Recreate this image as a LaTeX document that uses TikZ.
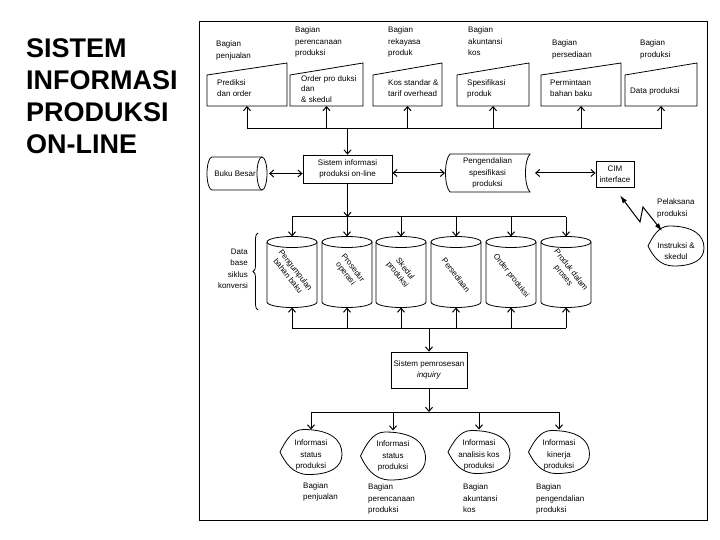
\documentclass[tikz,border=0pt]{standalone}
\usepackage{fontspec}
\setmainfont{Liberation Sans}
\usetikzlibrary{arrows.meta,decorations.pathreplacing}

\tikzset{
  shapeline/.style={line width=0.8pt},
  busline/.style={line width=1pt},
  arr/.style={busline, -{Straight Barb[length=4pt,width=7pt]}},
  dblarr/.style={busline, {Straight Barb[length=4pt,width=7pt]}-{Straight Barb[length=4pt,width=7pt]}},
  bolt/.style={busline, {Latex[length=8pt,width=5pt]}-{Latex[length=8pt,width=5pt]}},
  txt/.style={font=\fontsize{8}{11.5}\selectfont, inner sep=0pt, align=left},
  drumtxt/.style={font=\fontsize{8}{9.5}\selectfont, inner sep=0pt, align=center, rotate=-52},
  spot/.style 2 args={inner sep=0pt, outer sep=0pt, minimum width=#1, minimum height=#2},
  procbox/.style={draw, shapeline, inner sep=0pt, font=\fontsize{8}{11.5}\selectfont, align=center}
}

% input document: top edge slants up to the right
\newcommand{\docshape}[1]{\draw[shapeline] (#1.south west) -- (#1.south east) -- ([yshift=12pt]#1.north east) -- (#1.north west) -- cycle;}

% data drum, ellipse on top
\newcommand{\drum}[1]{%
  \draw[shapeline] ([yshift=-5.5pt]#1.north west) -- ([yshift=5.5pt]#1.south west)
    arc[start angle=180, end angle=360, x radius=25pt, y radius=5.5pt]
    -- ([yshift=-5.5pt]#1.north east);
  \draw[shapeline] ([yshift=-5.5pt]#1.north) ellipse [x radius=25pt, y radius=5.5pt];}

% display shape, pointed on the left
\def\dispshape{(-1,0) .. controls (-0.84,-0.45) and (-0.62,-1) .. (-0.25,-1) .. controls (0.62,-1) and (1,-0.55) .. (1,0.1) .. controls (1,0.68) and (0.62,1) .. (-0.08,1) .. controls (-0.6,1) and (-0.84,0.45) .. (-1,0) -- cycle}
\newcommand{\infoshape}[4]{\draw[shapeline, shift={([yshift=#4]#1.center)}, xscale=#2, yscale=#3] \dispshape;}

\begin{document}
\begin{tikzpicture}[x=1pt, y=-1pt]
\useasboundingbox (0,0) rectangle (720,540);

\node[anchor=north west, align=left, inner sep=0pt, font=\fontsize{27}{32.3}\selectfont\bfseries] (title) at (26,38) {SISTEM\\INFORMASI\\PRODUKSI\\ON-LINE};

\draw[busline] (199,22) rectangle (707,520);

	%departments on top
\node[txt, anchor=north west] (lblJual) at (216,41) {Bagian\\penjualan};
\node[txt, anchor=north west] (lblRencana) at (295,27) {Bagian\\perencanaan\\produksi};
\node[txt, anchor=north west] (lblRekayasa) at (388,27) {Bagian\\rekayasa\\produk};
\node[txt, anchor=north west] (lblAkun) at (468,27) {Bagian\\akuntansi\\kos};
\node[txt, anchor=north west] (lblSedia) at (552,40) {Bagian\\persediaan};
\node[txt, anchor=north west] (lblProd) at (640,40) {Bagian\\produksi};

	%input documents
\node[spot={80pt}{31pt}] (prediksi) at (247,90.5) {};
\node[spot={73pt}{31pt}] (orderp) at (326.5,90.5) {};
\node[spot={69pt}{31pt}] (kos) at (407.5,90.5) {};
\node[spot={72pt}{31pt}] (spek) at (493,90.5) {};
\node[spot={80pt}{31pt}] (minta) at (581,90.5) {};
\node[spot={72pt}{31pt}] (datap) at (661,90.5) {};
\foreach \n in {prediksi,orderp,kos,spek,minta,datap} \docshape{\n};

\node[txt, anchor=north west] (prediksiT) at (217,79.5) {Prediksi\\dan order};
\node[txt, anchor=north west, font=\fontsize{8}{10.3}\selectfont] (orderT) at (301,75.5) {Order pro duksi\\dan\\\& skedul};
\node[txt, anchor=north west] (kosT) at (388,79.5) {Kos standar \&\\tarif overhead};
\node[txt, anchor=north west] (spekT) at (467,79.5) {Spesifikasi\\produk};
\node[txt, anchor=north west] (mintaT) at (550,79.5) {Permintaan\\bahan baku};
\node[txt, anchor=north west] (dataT) at (630,87.5) {Data produksi};

	%central system row
\node[procbox, minimum width=89pt, minimum height=28pt] (sio) at (347.5,169) {Sistem informasi\\produksi on-line};

\node[spot={56pt}{33pt}, txt] (buku) at (235,173.5) {Buku Besar};
\draw[shapeline] ([xshift=-1pt]buku.north east) -- ([xshift=5pt]buku.north west)
  arc[start angle=90, end angle=270, x radius=5pt, y radius=16.5pt] -- ([xshift=-1pt]buku.south east);
\draw[shapeline] ([xshift=-1pt]buku.east) ellipse [x radius=5pt, y radius=16.5pt];

\node[spot={85pt}{38pt}, txt, align=center] (kendali) at (487.5,173) {Pengendalian\\spesifikasi\\produksi};
\draw[shapeline] ([xshift=5pt]kendali.north west) -- (kendali.north east)
  .. controls +(-6pt,-6pt) and +(-6pt,6pt) .. (kendali.south east)
  -- ([xshift=5pt]kendali.south west)
  .. controls +(-6pt,6pt) and +(-6pt,-6pt) .. ([xshift=5pt]kendali.north west) -- cycle;

\node[procbox, minimum width=38pt, minimum height=26pt] (cim) at (615,174) {CIM\\interface};

\node[txt, anchor=north west] (lblPelaksana) at (657,199) {Pelaksana\\produksi};
\node[txt, align=center, spot={56pt}{40pt}] (instr) at (676,251) {Instruksi \&\\skedul};
\infoshape{instr}{28}{20}{5pt}

\draw[dblarr, shorten <=6pt] (buku.east) -- (buku.east -| sio.west);
\draw[dblarr] (sio.east |- kendali.west) -- (kendali.west);
\draw[dblarr] ([xshift=5pt]kendali.east) -- (kendali.east -| cim.west);

\coordinate (zagA) at (640,222);
\coordinate (zagB) at (643,207);
\draw[bolt] ([xshift=5pt,yshift=-8pt]cim.south) -- (zagA) -- (zagB) -- ([xshift=-14pt]instr.north);

	%data base drums
\node[spot={50pt}{71pt}] (kumpul) at (292,272) {};
\node[spot={50pt}{71pt}] (prosedur) at (347,272) {};
\node[spot={50pt}{71pt}] (skedul) at (401,272) {};
\node[spot={50pt}{71pt}] (sedia) at (456,272) {};
\node[spot={50pt}{71pt}] (ordprod) at (511,272) {};
\node[spot={50pt}{71pt}] (produk) at (566,272) {};
\foreach \n in {kumpul,prosedur,skedul,sedia,ordprod,produk} \drum{\n};

\node[drumtxt] (kumpulT) at (292,273) {Pengumpulan\\bahan baku};
\node[drumtxt] (prosedurT) at (349,271) {Prosedur\\operasi};
\node[drumtxt] (skedulT) at (401,272) {Skedul\\produksi};
\node[drumtxt] (sediaT) at (456,275) {Persediaan};
\node[drumtxt] (ordprodT) at (511,276) {Order produksi};
\node[drumtxt] (produkT) at (567,273) {Produk dalam\\proses};

\node[txt, align=right, anchor=north east] (dbLabel) at (248,248.5) {Data\\base\\siklus\\konversi};
\draw[shapeline, decorate, decoration={brace, amplitude=5pt}] (258,310) -- (258,233);

	%inquiry
\node[procbox, minimum width=76pt, minimum height=36pt] (spi) at (429,370) {Sistem pemrosesan\\\textit{inquiry}};

	%information outputs
\node[txt, align=center, spot={62pt}{51pt}] (infoJual) at (311,455) {Informasi\\status\\produksi};
\node[txt, align=center, spot={64pt}{51pt}] (infoRencana) at (393,456) {Informasi\\status\\produksi};
\node[txt, align=center, spot={62pt}{51pt}] (infoAkun) at (479,455) {Informasi\\analisis kos\\produksi};
\node[txt, align=center, spot={62pt}{51pt}] (infoKinerja) at (559,455) {Informasi\\kinerja\\produksi};
\infoshape{infoJual}{31}{22.5}{3pt}
\infoshape{infoRencana}{32.5}{24}{0pt}
\infoshape{infoAkun}{31}{21.5}{3pt}
\infoshape{infoKinerja}{30.5}{21.5}{3pt}

\node[txt, anchor=north west] (lblJualB) at (303,482) {Bagian\\penjualan};
\node[txt, anchor=north west] (lblRencanaB) at (368,483.5) {Bagian\\perencanaan\\produksi};
\node[txt, anchor=north west] (lblAkunB) at (463,483.5) {Bagian\\akuntansi\\kos};
\node[txt, anchor=north west] (lblKendaliB) at (536,483.5) {Bagian\\pengendalian\\produksi};

	%connectors
\coordinate (busTop) at (347.5,129);
\draw[busline] (prediksi.south |- busTop) -- (datap.south |- busTop);
\foreach \n in {prediksi,orderp,kos,spek,minta,datap} \draw[arr] (\n.south |- busTop) -- (\n.south);
\draw[arr] (busTop) -- (sio);

\coordinate (busMid) at (347.5,217);
\draw[arr] (sio) -- (busMid);
\draw[busline] (kumpul.north |- busMid) -- (produk.north |- busMid);
\foreach \n in {kumpul,prosedur,skedul,sedia,ordprod,produk} \draw[arr] (\n.north |- busMid) -- (\n.north);

\coordinate (busLow) at (429,328);
\draw[busline] (kumpul.south |- busLow) -- (produk.south |- busLow);
\foreach \n in {kumpul,prosedur,skedul,sedia,ordprod,produk} \draw[arr] (\n.south |- busLow) -- (\n.south);
\draw[arr] (busLow) -- (spi);

\coordinate (busBot) at (429,412);
\draw[arr] (spi) -- (busBot);
\draw[busline] (infoJual.north |- busBot) -- (infoKinerja.north |- busBot);
\foreach \n in {infoJual,infoRencana,infoAkun,infoKinerja} \draw[arr] (\n.north |- busBot) -- (\n.north);

\end{tikzpicture}
\end{document}
